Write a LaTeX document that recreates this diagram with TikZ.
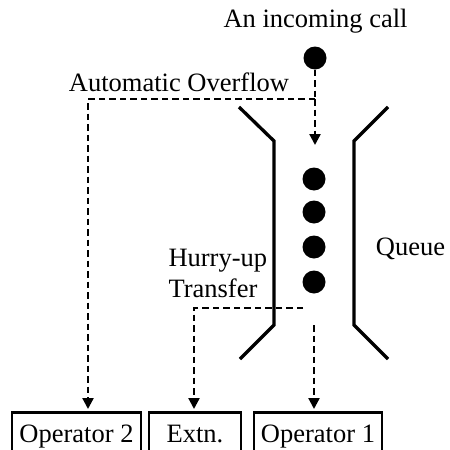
\documentclass[tikz,border=0pt]{standalone}
\usepackage{fontspec}
\setmainfont{Liberation Serif}
\usetikzlibrary{arrows.meta}
\begin{document}
\begin{tikzpicture}[x=1pt,y=-1pt,
  every node/.style={font=\fontsize{26.5}{30}\selectfont},
  call/.style={circle,fill=black,minimum size=23pt,inner sep=0pt},
  wall/.style={line width=3.3pt},
  flowline/.style={line width=2.3pt,dash pattern=on 6.5pt off 4pt},
  flow/.style={flowline,-{Triangle[width=11pt,length=11pt]},shorten >=2pt},
  desk/.style={draw,line width=2.8pt,anchor=north,inner xsep=0pt,
    inner ysep=4pt,text height=26pt,text depth=20pt},
  lbl/.style={anchor=base}]
\useasboundingbox (0,0) rectangle (450,450);
\clip (0,0) rectangle (450,450);

% labels
\node[lbl] (tin) at (315.5,27) {An incoming call};
\node[lbl] (tover) at (179,91) {Automatic Overflow};
\node[lbl,anchor=base west] (thurry) at (165,266) {Hurry-up};
\node[lbl,anchor=base west] (ttrans) at (165,297) {Transfer};
\node[lbl] (tqueue) at (410.5,255) {Queue};

% queue walls
\draw[wall] (239,107) -- (274,141) -- (274,325) -- (240,359);
\draw[wall] (388,107) -- (354,141) -- (354,325) -- (388,359);

% incoming call and waiting calls
\node[call] (c0) at (315,58) {};
\node[call] (c1) at (314,179) {};
\node[call] (c2) at (314,212) {};
\node[call] (c3) at (314,247) {};
\node[call] (c4) at (314,282) {};

% destinations
\node[desk,minimum width=129pt] (op2) at (76.5,411) {Operator 2};
\node[desk,minimum width=92pt] (ext) at (195,411) {Extn.};
\node[desk,minimum width=128pt] (op1) at (318,411) {Operator 1};

% routing points
\coordinate (qin) at (315,147);
\coordinate (split) at (315,99);
\coordinate (hurry) at (303,308);
\coordinate (qout) at (314,325);

% call flows
\draw[flowline] (c0.south) -- (split);
\draw[flow] (split) -- (qin);
\draw[flow] (split) -| (op2.north -| 88,0);
\draw[flow] (hurry) -| (ext.north -| 194,0);
\draw[flow] (qout) -- (op1.north -| 314,0);
\end{tikzpicture}
\end{document}
